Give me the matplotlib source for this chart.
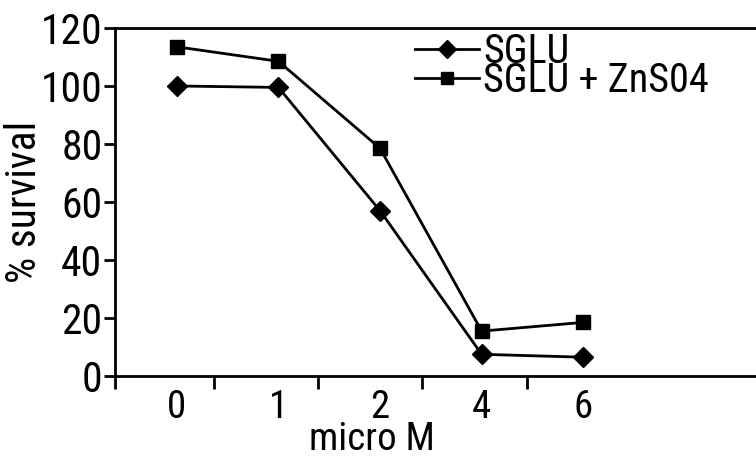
import matplotlib.pyplot as plt
from matplotlib import font_manager

names = {f.name for f in font_manager.fontManager.ttflist}
cands = ['Liberation Sans Narrow', 'DejaVu Sans Condensed', 'Roboto Condensed',
         'Open Sans Condensed', 'Noto Sans Condensed']
plt.rcParams['font.family'] = [c for c in cands if c in names] + ['DejaVu Sans']

doses = ["0", "1", "2", "4", "6"]
sglu = [100, 99.5, 57, 7.5, 6.5]
sglu_zn = [113.5, 108.5, 78.5, 15.5, 18.5]
y_ticks = [0, 20, 40, 60, 80, 100, 120]


def plot_survival():
    fig = plt.figure(figsize=(7.56, 4.66), dpi=100)
    ax = fig.add_axes([0.152, 0.193, 0.86, 0.747])
    pos = list(range(len(doses)))
    ax.plot(pos, sglu, color="black", lw=2, marker="D", ms=10,
            label="SGLU")
    ax.plot(pos, sglu_zn, color="black", lw=2, marker="s", ms=10,
            label="SGLU + ZnS04")

    ax.set_xlim(-0.61, 5.79)
    ax.set_ylim(0, 120)
    ax.set_xticks(pos)
    ax.set_xticklabels(doses)
    ax.set_xticks([-0.61, 0.37, 1.39, 2.41, 3.45], minor=True)
    ax.tick_params(axis="x", which="major", length=0, pad=9, labelsize=28)
    ax.tick_params(axis="x", which="minor", length=9, width=2, direction="out")
    ax.set_yticks(y_ticks)
    ax.tick_params(axis="y", length=8, width=2, direction="out",
                   pad=1, labelsize=30)
    ax.spines["right"].set_visible(False)
    for s in ("left", "bottom", "top"):
        ax.spines[s].set_linewidth(2)

    ax.set_ylabel("% survival", fontsize=30)
    ax.set_xlabel("micro M", fontsize=28, va="top")
    ax.xaxis.set_label_coords(0.395, -0.13)
    ax.yaxis.set_label_coords(-0.108, 0.5)

    ax.legend(loc="upper left", bbox_to_anchor=(0.43, 1.045), frameon=False,
              fontsize=29, handlelength=1.6, handletextpad=0.1,
              labelspacing=-0.25, borderpad=0, markerscale=0.9)
    return fig


if __name__ == "__main__":
    fig = plot_survival()
    fig.savefig("out.png", dpi=100)
